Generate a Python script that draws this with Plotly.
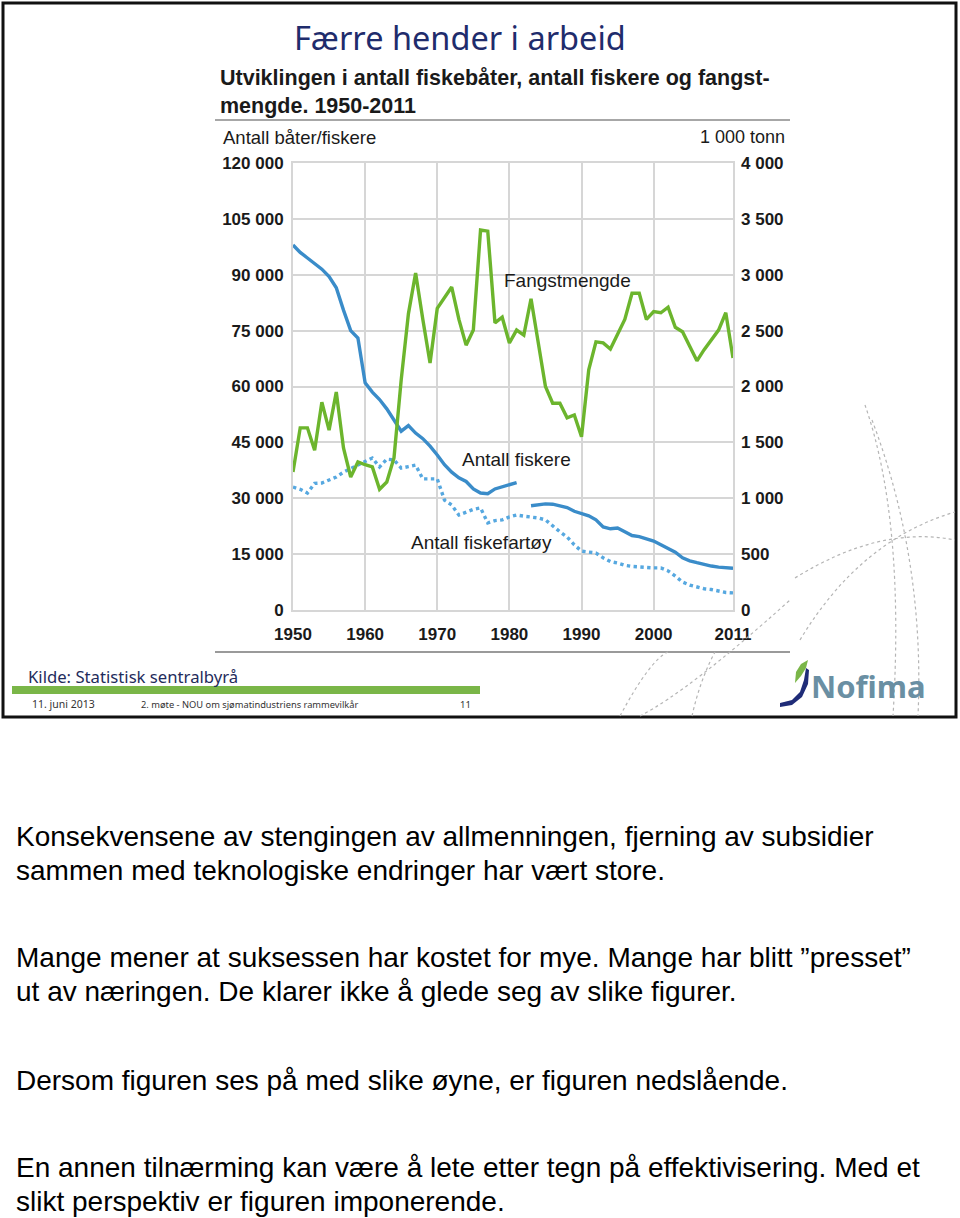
import plotly.graph_objects as go

# ---------------- data ----------------
years = list(range(1950, 2012))

fiskere = [98000, 96000, 94500, 93000, 91500, 89500, 86500, 80500, 75000, 73000,
           61000, 58500, 56500, 54000, 51000, 48000, 49500, 47500, 46000, 44000,
           41600, 39000, 37000, 35500, 34500, 32500, 31400, 31200, 32500, 33000,
           33700, 34200, None, 28000, 28300, 28500, 28400, 28000, 27500, 26500,
           25800, 25300, 24200, 22300, 21800, 22000, 21000, 20000, 19700, 19000,
           18500, 17500, 16500, 15500, 14000, 13200, 12700, 12200, 11800, 11500,
           11300, 11200]

fartoy = [33000, 32400, 31400, 34000, 34100, 35000, 35700, 37000, 38000, 39000,
          40000, 40800, 38400, 40500, 40300, 38100, 38500, 38900, 35200, 35200,
          35200, 29500, 28200, 25500, 26300, 27000, 27400, 23400, 24000, 24200,
          25000, 25500, 25200, 25000, 24700, 24200, 22500, 21000, 19600, 17500,
          15800, 15500, 15300, 14000, 13000, 12600, 12000, 11700, 11500, 11400,
          11300, 11300, 10500, 9100, 7500, 6700, 6100, 5700, 5500, 5000,
          4700, 4600]

fangst = [1235, 1630, 1630, 1430, 1860, 1610, 1950, 1450, 1190, 1325,
          1300, 1280, 1080, 1145, 1360, 2060, 2650, 3015, 2600, 2210,
          2700, 2800, 2890, 2600, 2370, 2505, 3400, 3390, 2570, 2620,
          2390, 2505, 2460, 2785, 2400, 2000, 1850, 1850, 1720, 1745,
          1550, 2150, 2400, 2390, 2335, 2460, 2600, 2835, 2835, 2600,
          2670, 2660, 2710, 2530, 2490, 2360, 2230, 2330, 2420, 2505,
          2660, 2255]

x_ticks = [1950, 1960, 1970, 1980, 1990, 2000, 2011]
x_ticktext = ["1950", "1960", "1970", "1980", "1990", "2000", "2011"]
left_ticks = [0, 15000, 30000, 45000, 60000, 75000, 90000, 105000, 120000]
left_ticktext = ["0", "15 000", "30 000", "45 000", "60 000", "75 000", "90 000", "105 000", "120 000"]
right_ticks = [0, 500, 1000, 1500, 2000, 2500, 3000, 3500, 4000]
right_ticktext = ["0", "500", "1 000", "1 500", "2 000", "2 500", "3 000", "3 500", "4 000"]

paragraphs = [
    ["Konsekvensene av stengingen av allmenningen, fjerning av subsidier",
     "sammen med teknologiske endringer har vært store."],
    ["Mange mener at suksessen har kostet for mye. Mange har blitt ”presset”",
     "ut av næringen. De klarer ikke å glede seg av slike figurer."],
    ["Dersom figuren ses på med slike øyne, er figuren nedslående."],
    ["En annen tilnærming kan være å lete etter tegn på effektivisering. Med et",
     "slikt perspektiv er figuren imponerende."],
]

# ---------------- layout helpers ----------------
W, H = 960, 1218


def px(x):
    return x / W


def py(y):
    return 1 - y / H


def path(points, close=False):
    s = "M " + " L ".join(f"{px(a):.5f},{py(b):.5f}" for a, b in points)
    return s + (" Z" if close else "")


def qpath(p0, c, p1):
    return (f"M {px(p0[0]):.5f},{py(p0[1]):.5f} Q {px(c[0]):.5f},{py(c[1]):.5f} "
            f"{px(p1[0]):.5f},{py(p1[1]):.5f}")


BLUE = "#3a8cc9"
LBLUE = "#56a8e0"
GREEN = "#6cb52d"
GRID = "#d6d6d6"
ARIAL = "Liberation Sans, Arial, sans-serif"

fig = go.Figure()
fig.add_trace(go.Scatter(x=years, y=fiskere, mode="lines", name="Antall fiskere",
                         line=dict(color=BLUE, width=3.4), connectgaps=False))
fig.add_trace(go.Scatter(x=years, y=fartoy, mode="lines", name="Antall fiskefartøy",
                         line=dict(color=LBLUE, width=3.4, dash="dot")))
fig.add_trace(go.Scatter(x=years, y=fangst, mode="lines", name="Fangstmengde",
                         line=dict(color=GREEN, width=3.4), yaxis="y2"))

tickfont = dict(family=ARIAL, size=17, color="#1a1a1a", weight="bold")

fig.update_layout(
    width=W, height=H, autosize=False,
    margin=dict(l=0, r=0, t=0, b=0, autoexpand=False),
    paper_bgcolor="white", plot_bgcolor="white",
    showlegend=False,
    xaxis=dict(domain=[px(293), px(733)], range=[1950, 2011],
               tickvals=x_ticks, ticktext=x_ticktext, tickfont=tickfont,
               showgrid=True, gridcolor=GRID, gridwidth=2,
               showline=True, linecolor=GRID, linewidth=2, mirror=True,
               zeroline=False, ticks="", ticklabelstandoff=8, automargin=False),
    yaxis=dict(domain=[py(610), py(163)], range=[0, 120000],
               tickvals=left_ticks, ticktext=left_ticktext, tickfont=tickfont,
               showgrid=True, gridcolor=GRID, gridwidth=2,
               showline=True, linecolor=GRID, linewidth=2, mirror=True,
               zeroline=False, ticks="", ticklabelstandoff=4, automargin=False),
    yaxis2=dict(overlaying="y", side="right", range=[0, 4000],
                tickvals=right_ticks, ticktext=right_ticktext, tickfont=tickfont,
                showgrid=False, zeroline=False, ticks="", ticklabelstandoff=7,
                showline=False, automargin=False),
)

ann = []


def text(x, y, s, size, color="#1a1a1a", family=ARIAL, xanchor="left", bold=False):
    if bold:
        s = f"<b>{s}</b>"
    ann.append(dict(x=px(x), y=py(y), xref="paper", yref="paper", text=s,
                    showarrow=False, xanchor=xanchor, yanchor="middle", align="left",
                    font=dict(size=size, color=color, family=family)))


# slide texts
text(460, 38, "Færre hender i arbeid", 32.5, color="#1f2c6c",
     family="Noto Sans, sans-serif", xanchor="center")
text(218, 92, "Utviklingen i antall fiskebåter, antall fiskere og fangst-<br>mengde. 1950-2011",
     21.5, bold=True)
text(221, 137, "Antall båter/fiskere", 18.5)
text(787, 137, "1 000 tonn", 18, xanchor="right")
text(26, 676, "Kilde: Statistisk sentralbyrå", 16.7, color="#1f2c5c",
     family="Noto Sans, sans-serif")
text(30, 704, "11. juni 2013", 10.5, color="#333333", family="Noto Sans, sans-serif")
text(139, 704, "2. møte - NOU om sjømatindustriens rammevilkår", 9.3, color="#333333",
     family="Noto Sans, sans-serif")
text(458, 704, "11", 9.5, color="#333333", family="Noto Sans, sans-serif")
text(809, 686, "Nofima", 31, color="#6a8fa3", family="Noto Sans, sans-serif", bold=True)

# series labels (data coordinates)
lblfont = dict(size=19, color="#1a1a1a", family=ARIAL)
ann.append(dict(x=1988.1, y=2950, xref="x", yref="y2", text="Fangstmengde",
                showarrow=False, font=lblfont))
ann.append(dict(x=1981.0, y=40500, xref="x", yref="y", text="Antall fiskere",
                showarrow=False, font=lblfont))
ann.append(dict(x=1976.2, y=18000, xref="x", yref="y", text="Antall fiskefartøy",
                showarrow=False, font=lblfont))

# body paragraphs
y0s = [836, 957, 1080, 1167]
for y0, lines in zip(y0s, paragraphs):
    for i, line in enumerate(lines):
        text(14, y0 + i * 34.5, line, 28, color="#000000")

fig.update_layout(annotations=ann)

shapes = []
# slide border
shapes.append(dict(type="rect", xref="paper", yref="paper", x0=px(3), x1=px(956),
                   y0=py(717), y1=py(3), line=dict(color="#111111", width=3)))
# rules under subtitle and below x axis
shapes.append(dict(type="line", xref="paper", yref="paper", x0=px(215), x1=px(790),
                   y0=py(120), y1=py(120), line=dict(color="#8a8a8a", width=1.5)))
shapes.append(dict(type="line", xref="paper", yref="paper", x0=px(215), x1=px(790),
                   y0=py(652), y1=py(652), line=dict(color="#9a9a9a", width=2)))
# green footer bar
shapes.append(dict(type="rect", xref="paper", yref="paper", x0=px(12), x1=px(480),
                   y0=py(694), y1=py(686), fillcolor="#7ab648", line=dict(width=0)))
# decorative dotted arcs
dot = dict(color="#b5b5b5", width=1.2, dash="dot")
for p0, c, p1 in [((865, 405), (905, 520), (893, 716)),
                  ((872, 420), (925, 560), (918, 716)),
                  ((795, 578), (880, 525), (955, 540)),
                  ((800, 640), (860, 540), (955, 512)),
                  ((620, 716), (650, 660), (668, 652)),
                  ((692, 716), (700, 680), (715, 652)),
                  ((640, 716), (690, 690), (790, 600))]:
    shapes.append(dict(type="path", xref="paper", yref="paper", path=qpath(p0, c, p1), line=dot))
# Nofima logo swoosh
shapes.append(dict(type="path", xref="paper", yref="paper",
                   path=path([(780, 703), (792, 700), (800, 692), (804, 680), (806, 668),
                              (809, 670), (808, 684), (802, 697), (792, 705), (780, 707)], True),
                   fillcolor="#1f2c78", line=dict(width=0)))
shapes.append(dict(type="path", xref="paper", yref="paper",
                   path=path([(795, 683), (796, 672), (801, 664), (808, 660), (806, 668),
                              (801, 676)], True),
                   fillcolor="#7ab648", line=dict(width=0)))
fig.update_layout(shapes=shapes)

fig.write_html("out.html")
